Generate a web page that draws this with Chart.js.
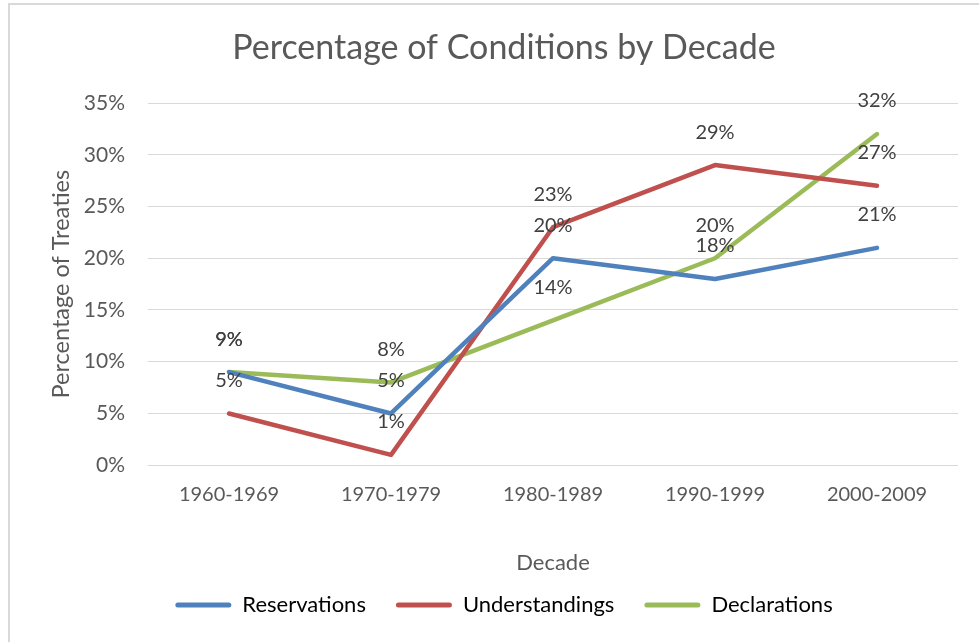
<!DOCTYPE html>
<html>
<head>
<meta charset="utf-8">
<title>Percentage of Conditions by Decade</title>
<script src="https://cdn.jsdelivr.net/npm/chart.js@4/dist/chart.umd.min.js"></script>
<style>
  html, body { margin: 0; padding: 0; background: #fff; }
  canvas { display: block; }
</style>
</head>
<body>
<canvas id="chart" width="979" height="642"></canvas>
<script>
// data (percent)
const decades = ['1960-1969', '1970-1979', '1980-1989', '1990-1999', '2000-2009'];
const reservations = [9, 5, 20, 18, 21];
const understandings = [5, 1, 23, 29, 27];
const declarations = [9, 8, 14, 20, 32];

const FONT = 'Lato';
const TEXT = '#595959';

// draws the value above each point, like the Excel data labels
const pointLabels = {
  id: 'pointLabels',
  afterDatasetsDraw(chart) {
    const ctx = chart.ctx;
    ctx.save();
    ctx.font = '20px ' + FONT;
    ctx.fillStyle = '#404040';
    ctx.textAlign = 'center';
    ctx.textBaseline = 'middle';
    chart.data.datasets.forEach((ds, i) => {
      chart.getDatasetMeta(i).data.forEach((pt, j) => {
        ctx.fillText(ds.data[j] + '%', pt.x, pt.y - 33);
      });
    });
    ctx.restore();
  }
};

// white page plus the thin frame on the top and left edges
const frame = {
  id: 'frame',
  beforeDraw(chart) {
    const ctx = chart.ctx;
    ctx.save();
    ctx.fillStyle = '#fff';
    ctx.fillRect(0, 0, chart.width, chart.height);
    ctx.strokeStyle = '#d9d9d9';
    ctx.lineWidth = 2;
    ctx.beginPath();
    ctx.moveTo(9, chart.height);
    ctx.lineTo(9, 4);
    ctx.lineTo(chart.width, 4);
    ctx.stroke();
    ctx.restore();
  }
};

function series(label, values, color) {
  return {
    label: label,
    data: values,
    borderColor: color,
    backgroundColor: color,
    borderWidth: 4.5,
    borderCapStyle: 'round',
    borderJoinStyle: 'round',
    pointRadius: 0,
    pointHoverRadius: 0,
    tension: 0,
    fill: false
  };
}

new Chart(document.getElementById('chart'), {
  type: 'line',
  data: {
    labels: decades,
    datasets: [
      series('Reservations', reservations, '#4F81BD'),
      series('Understandings', understandings, '#C0504D'),
      series('Declarations', declarations, '#9BBB59')
    ]
  },
  options: {
    responsive: false,
    animation: false,
    devicePixelRatio: 1,
    layout: { padding: { left: 50, right: 21, top: 0, bottom: 16 } },
    plugins: {
      title: {
        display: true,
        text: 'Percentage of Conditions by Decade',
        color: TEXT,
        font: { family: FONT, size: 34, weight: 'normal' },
        padding: { top: 27.6, bottom: 34.6 }
      },
      legend: {
        position: 'bottom',
        labels: {
          color: TEXT,
          font: { family: FONT, size: 22 },
          boxWidth: 56,
          boxHeight: 5,
          padding: 30,
          generateLabels(chart) {
            return chart.data.datasets.map((ds, i) => ({
              text: ds.label,
              fillStyle: ds.borderColor,
              strokeStyle: ds.borderColor,
              lineWidth: 0,
              borderRadius: 2.5,
              hidden: false,
              datasetIndex: i
            }));
          }
        }
      },
      tooltip: { enabled: false }
    },
    scales: {
      x: {
        offset: true,
        grid: { display: false, drawTicks: false },
        border: { display: false },
        ticks: { color: TEXT, font: { family: FONT, size: 20 }, padding: 17 },
        title: {
          display: true,
          text: 'Decade',
          color: TEXT,
          font: { family: FONT, size: 22 },
          padding: { top: 26.6, bottom: -12.2 }
        }
      },
      y: {
        min: 0,
        max: 35,
        grid: { color: '#d9d9d9', lineWidth: 1, drawTicks: false },
        border: { display: false },
        ticks: {
          stepSize: 5,
          color: TEXT,
          font: { family: FONT, size: 21 },
          padding: 23,
          callback: v => v + '%'
        },
        title: {
          display: true,
          text: 'Percentage of Treaties',
          color: TEXT,
          font: { family: FONT, size: 23.5, lineHeight: 1 },
          padding: { top: 0, bottom: 0 }
        },
        afterFit(scale) { scale.width = 98; }
      }
    }
  },
  plugins: [frame, pointLabels]
});
</script>
</body>
</html>
